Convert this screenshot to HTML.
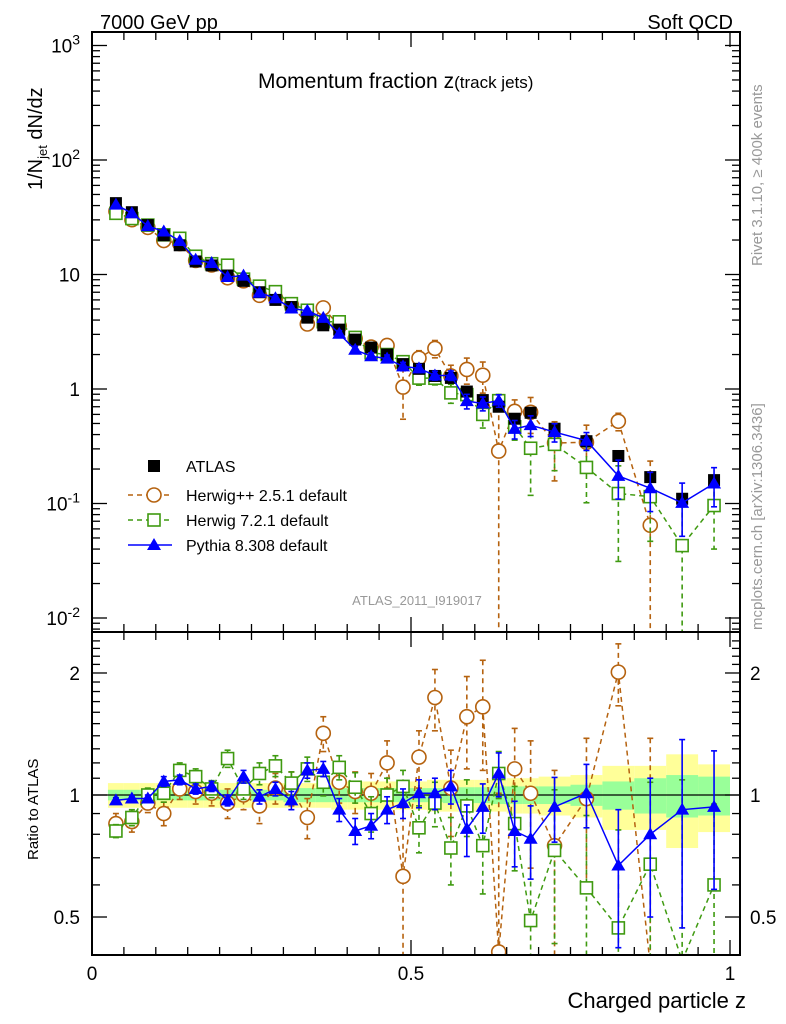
<!DOCTYPE html>
<html><head><meta charset="utf-8">
<style>
html,body{margin:0;padding:0;background:#fff;width:786px;height:1024px;overflow:hidden;}
svg{display:block;font-family:"Liberation Sans",Arial,sans-serif;}
</style></head>
<body>
<svg id="chart" width="786" height="1024" viewBox="0 0 786 1024" xmlns="http://www.w3.org/2000/svg">
<defs>
<clipPath id="clipMain"><rect x="92" y="32" width="648" height="600"/></clipPath>
<clipPath id="clipRatio"><rect x="92" y="632" width="648" height="323"/></clipPath>
</defs>
<text x="100" y="29" font-size="20">7000 GeV pp</text>
<text x="733" y="29" font-size="20" text-anchor="end">Soft QCD</text>
<text x="258" y="88" font-size="21">Momentum fraction z<tspan font-size="17">(track jets)</tspan></text>
<text transform="translate(42,190) rotate(-90)" font-size="20">1/N<tspan font-size="13" dy="5">jet</tspan><tspan dy="-5"> dN/dz</tspan></text>
<text transform="translate(38,860) rotate(-90)" font-size="15">Ratio to ATLAS</text>
<text x="746" y="1008" font-size="22" text-anchor="end">Charged particle z</text>
<text transform="translate(762,266) rotate(-90)" font-size="15" fill="#999">Rivet 3.1.10, ≥ 400k events</text>
<text transform="translate(762,630) rotate(-90)" font-size="15" fill="#999">mcplots.cern.ch [arXiv:1306.3436]</text>
<text x="417" y="605" font-size="13" fill="#999" text-anchor="middle">ATLAS_2011_I919017</text>
<g id="bands"></g>
<g id="series"></g>
<g id="axes"></g>
<g id="legend"></g>
</svg>
<script>
// ---- data ----
const zCenters = [0.0375,0.0625,0.0875,0.1125,0.1375,0.1625,0.1875,0.2125,0.2375,0.2625,0.2875,0.3125,0.3375,0.3625,0.3875,0.4125,0.4375,0.4625,0.4875,0.5125,0.5375,0.5625,0.5875,0.6125,0.6375,0.6625,0.6875,0.725,0.775,0.825,0.875,0.925,0.975];
const atlasValues = [42,35,27,22,18,13,12,9.8,8.8,7.0,6.0,5.2,4.2,3.6,3.3,2.7,2.3,2.0,1.65,1.5,1.3,1.25,0.95,0.8,0.7,0.55,0.62,0.45,0.35,0.26,0.17,0.11,0.16];
const statBand = [0.03,0.03,0.03,0.03,0.03,0.03,0.03,0.03,0.03,0.03,0.03,0.04,0.04,0.04,0.04,0.04,0.04,0.04,0.04,0.04,0.04,0.045,0.045,0.045,0.05,0.05,0.05,0.05,0.06,0.08,0.1,0.12,0.11];
const totalBand = [0.07,0.07,0.07,0.07,0.07,0.07,0.07,0.07,0.07,0.07,0.07,0.07,0.07,0.07,0.08,0.08,0.08,0.08,0.08,0.08,0.09,0.09,0.09,0.09,0.09,0.1,0.1,0.11,0.12,0.18,0.18,0.26,0.19];
const herwigPPRatio = [0.85,0.86,0.955,0.9,1.035,1.02,1.01,0.955,1.0,0.94,1.04,1.04,0.88,1.42,1.075,1.02,1.01,1.2,0.63,1.24,1.74,1.04,1.56,1.65,0.41,1.16,1.01,0.75,0.98,2.01,0.38];
const herwigPPErr = [0.05,0.05,0.05,0.06,0.06,0.07,0.07,0.08,0.08,0.09,0.09,0.1,0.1,0.14,0.12,0.12,0.12,0.16,0.3,0.2,0.3,0.25,0.4,0.5,0.6,0.3,0.35,0.4,0.4,0.35,1.0];
const herwig7Ratio = [0.815,0.88,1.0,1.01,1.15,1.11,1.035,1.23,1.035,1.13,1.18,1.07,1.16,1.075,1.17,1.045,0.9,1.0,1.05,0.83,0.955,0.74,0.94,0.75,1.13,0.85,0.49,0.73,0.59,0.47,0.675,0.39,0.6];
const herwig7Err = [0.03,0.04,0.04,0.05,0.05,0.05,0.05,0.06,0.06,0.07,0.07,0.07,0.08,0.08,0.08,0.09,0.09,0.1,0.1,0.11,0.12,0.14,0.15,0.18,0.15,0.2,0.3,0.3,0.3,0.35,0.4,0.7,0.35];
const pythiaRatio = [0.97,0.98,0.98,1.08,1.09,1.035,1.05,0.97,1.11,0.99,1.035,0.97,1.15,1.16,0.92,0.815,0.84,0.92,0.955,1.01,1.01,1.05,0.825,0.935,1.13,0.815,0.78,0.935,1.01,0.67,0.8,0.92,0.935];
const pythiaErr = [0.015,0.015,0.02,0.03,0.03,0.03,0.03,0.03,0.04,0.04,0.04,0.05,0.05,0.05,0.06,0.06,0.06,0.07,0.08,0.08,0.09,0.1,0.12,0.13,0.14,0.15,0.16,0.17,0.18,0.25,0.3,0.45,0.35];
const mainTickLabels = ["10^-2","10^-1","1","10","10^2","10^3"];
const ratioTickLabels = ["0.5","1","2"];
const xTickLabels = ["0","0.5","1"];

// ---- scales ----
const X0=92,X1=740,MT=32,MB=632,RB=955;
const xs = z => 92 + 638*z;
const ys = v => 389 - 114.5*Math.log10(v);
const yr = r => 795 - 405.3*Math.log10(r);
const NS="http://www.w3.org/2000/svg";
function mk(tag, attrs, parent){const e=document.createElementNS(NS,tag);for(const k in attrs)e.setAttribute(k,attrs[k]);parent.appendChild(e);return e;}

const bandsG=document.getElementById('bands');
const seriesG=document.getElementById('series');
const axesG=document.getElementById('axes');
const legendG=document.getElementById('legend');

function edges(i){
  const c=zCenters[i]; const w = c>0.7?0.05:0.025; return [c-w/2,c+w/2];
}
const bandDefs=[[totalBand,'#ffff99','total-uncertainty-band'],[statBand,'#99ff99','stat-uncertainty-band']];
bandDefs.forEach(([arr,col,name])=>{
  const g=mk('g',{'clip-path':'url(#clipRatio)'},bandsG);
  
  
  zCenters.forEach((c,i)=>{
    const [a,b]=edges(i);
    const r=mk('rect',{x:xs(a),y:yr(1+arr[i]),width:xs(b)-xs(a),height:yr(1-arr[i])-yr(1+arr[i]),fill:col},g);
    
    
  });
});
mk('line',{x1:X0,x2:X1,y1:yr(1),y2:yr(1),stroke:'#000','stroke-width':1.3},bandsG);

function marker(kind,x,y,col,parent){
  let m;
  if(kind==='square') m=mk('rect',{x:x-6,y:y-6,width:12,height:12,fill:'#000'},parent);
  else if(kind==='osquare') m=mk('rect',{x:x-6,y:y-6,width:12,height:12,fill:'#fff',stroke:col,'stroke-width':1.6},parent);
  else if(kind==='circle') m=mk('circle',{cx:x,cy:y,r:7,fill:'#fff',stroke:col,'stroke-width':1.6},parent);
  else m=mk('polygon',{points:`${x},${y-7} ${x-7},${y+5} ${x+7},${y+5}`,fill:col},parent);
  return m;
}
function drawSeries(name,ratios,errs,col,kind,dash,isData){
  ['main','ratio'].forEach(panel=>{
    const g=mk('g',{'clip-path':panel==='main'?'url(#clipMain)':'url(#clipRatio)'},seriesG);
    
    
    const pts=[];
    ratios.forEach((r,i)=>{
      const x=xs(zCenters[i]);
      const val = panel==='main'? atlasValues[i]*r : r;
      const f = panel==='main'? ys : yr;
      const y=f(val);
      pts.push([x,y]);
      if(errs){
        const e=errs[i]*(panel==='main'?atlasValues[i]:1);
        const yh=f(val+e), yl=f(Math.max(val-e,1e-6));
        mk('line',{x1:x,x2:x,y1:yh,y2:yl,stroke:col,'stroke-width':1.6,'stroke-dasharray':dash||'none'},g);
        mk('line',{x1:x-3,x2:x+3,y1:yh,y2:yh,stroke:col,'stroke-width':1.6},g);
        mk('line',{x1:x-3,x2:x+3,y1:yl,y2:yl,stroke:col,'stroke-width':1.6},g);
      }
    });
    if(!isData){
      mk('polyline',{points:pts.map(p=>p.join(',')).join(' '),fill:'none',stroke:col,'stroke-width':1.5,'stroke-dasharray':dash||'none'},g);
    }
    if(!(isData && panel==='ratio')){
      pts.forEach(p=>{
        const m=marker(kind,p[0],p[1],col,g);
        
        
      });
    }
  });
}
const ones = atlasValues.map(()=>1);
drawSeries('herwigpp-series',herwigPPRatio,herwigPPErr,'#b5620f','circle','5,4',false);
drawSeries('herwig7-series',herwig7Ratio,herwig7Err,'#3f9a10','osquare','5,4',false);
drawSeries('atlas-data',ones,null,'#000','square',null,true);
drawSeries('pythia-series',pythiaRatio,pythiaErr,'#0000ff','triangle',null,false);

mk('rect',{x:X0,y:MT,width:X1-X0,height:MB-MT,fill:'none',stroke:'#000','stroke-width':2},axesG);
mk('rect',{x:X0,y:MB,width:X1-X0,height:RB-MB,fill:'none',stroke:'#000','stroke-width':2},axesG);
for(let d=-3;d<=3;d++){
  for(let k=1;k<10;k++){
    const v=k*Math.pow(10,d); const y=ys(v);
    if(y<MT||y>MB) continue;
    const L=k===1?15:8;
    mk('line',{x1:X0,x2:X0+L,y1:y,y2:y,stroke:'#000','stroke-width':1.3},axesG);
    mk('line',{x1:X1-L,x2:X1,y1:y,y2:y,stroke:'#000','stroke-width':1.3},axesG);
  }
}
mainTickLabels.forEach((lab,i)=>{
  const d=i-2; const y=ys(Math.pow(10,d));
  const t=mk('text',{x:80,y:y+7,'font-size':19,'text-anchor':'end'},axesG);
  
  
  if(lab.includes('^')){const [b,e]=lab.split('^');t.textContent=b;const s=mk('tspan',{dy:-8,'font-size':14},t);s.textContent=e;}
  else t.textContent=lab;
});
for(let v=0.4;v<=2.5;v+=0.1){
  const y=yr(v); if(y<MB||y>RB) continue;
  const maj=[0.5,1,2].some(m=>Math.abs(m-v)<1e-6);
  const L=maj?15:8;
  mk('line',{x1:X0,x2:X0+L,y1:y,y2:y,stroke:'#000','stroke-width':1.3},axesG);
  mk('line',{x1:X1-L,x2:X1,y1:y,y2:y,stroke:'#000','stroke-width':1.3},axesG);
}
ratioTickLabels.forEach(lab=>{
  const y=yr(parseFloat(lab));
  const t=mk('text',{x:80,y:y+7,'font-size':19,'text-anchor':'end'},axesG);t.textContent=lab;
  
  
  const t2=mk('text',{x:750,y:y+7,'font-size':19},axesG);t2.textContent=lab;
  
  
});
for(let i=0;i<=20;i++){
  const z=i*0.05, x=xs(z); const maj=i%10===0; const L=maj?15:8;
  [[MT,1],[MB,-1],[MB,1],[RB,-1]].forEach(([y0,s])=>{
    mk('line',{x1:x,x2:x,y1:y0,y2:y0+s*L,stroke:'#000','stroke-width':1.3},axesG);
  });
}
xTickLabels.forEach(lab=>{
  const t=mk('text',{x:xs(parseFloat(lab)),y:980,'font-size':19,'text-anchor':'middle'},axesG);t.textContent=lab;
  
  
});

const legendEntries=[['ATLAS','#000','square',null],['Herwig++ 2.5.1 default','#b5620f','circle','5,4'],['Herwig 7.2.1 default','#3f9a10','osquare','5,4'],['Pythia 8.308 default','#0000ff','triangle',null]];
const legendYs=[466,495,520,545];
legendEntries.forEach((e,i)=>{
  const y=legendYs[i];
  const g=mk('g',{},legendG);
  
  
  if(i>0) mk('line',{x1:128,x2:172,y1:y,y2:y,stroke:e[1],'stroke-width':1.5,'stroke-dasharray':e[3]||'none'},g);
  marker(e[2],154,y,e[1],g);
  const t=mk('text',{x:186,y:y+6,'font-size':16},g);t.textContent=e[0];
});
</script>
</body></html>
